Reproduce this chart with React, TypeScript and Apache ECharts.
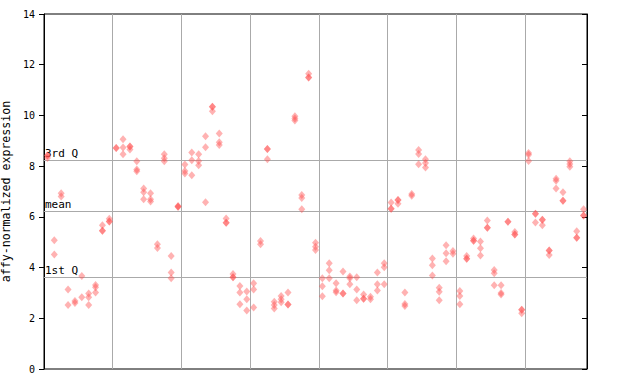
import React, { useEffect, useRef } from "react";
import * as echarts from "echarts";

// Replicate values per sample, grouped by the eight vertical bands (10 samples each)
const group1Values: number[][] = [
  [8.42, 8.42, 8.32], [5.08, 4.52], [6.93, 6.8], [3.14, 2.52], [2.68, 2.6],
  [3.67, 2.83], [2.98, 2.83, 2.52], [3.31, 3.22, 3.02], [5.67, 5.45, 5.45], [5.93, 5.82, 5.82],
];
const group2Values: number[][] = [
  [8.72, 8.72], [9.06, 8.74, 8.47], [8.77, 8.77, 8.66], [8.19, 7.87, 7.8], [7.12, 6.97, 6.69],
  [6.93, 6.69, 6.61], [4.92, 4.77], [8.47, 8.31, 8.19], [4.46, 3.81, 3.58], [6.43, 6.4, 6.4],
];
const group3Values: number[][] = [
  [8.06, 7.81, 7.71], [8.54, 8.23, 7.64], [8.47, 8.2, 8.04], [9.18, 8.75, 6.58], [10.34, 10.34, 10.16],
  [9.29, 8.94, 8.83], [5.94, 5.77, 5.77], [3.75, 3.62, 3.62], [3.27, 3.02, 2.55], [3.06, 2.75, 2.31],
];
const group4Values: number[][] = [
  [3.38, 3.14, 2.43], [5.05, 4.92], [8.68, 8.68, 8.27], [2.65, 2.52, 2.39], [2.88, 2.75, 2.63],
  [3.02, 2.54, 2.54], [9.97, 9.88, 9.8], [6.86, 6.74, 6.3], [11.64, 11.5, 11.5], [4.98, 4.82, 4.69],
];
const group5Values: number[][] = [
  [3.58, 3.26, 2.87], [4.17, 3.89, 3.58], [3.38, 3.1, 3.03], [3.85, 2.98, 2.98], [3.65, 3.58, 3.34],
  [3.62, 3.14, 2.71], [2.94, 2.77, 2.77], [2.85, 2.75], [3.81, 3.34, 3.1], [4.17, 4.01, 3.34],
];
const group6Values: number[][] = [
  [6.57, 6.32, 6.32], [6.66, 6.66, 6.52], [3.02, 2.56, 2.48], [6.9, 6.83], [8.64, 8.48, 8.07],
  [8.27, 8.12, 7.95], [4.36, 4.09, 3.69], [3.2, 3.05, 2.71], [4.88, 4.56, 4.25], [4.65, 4.55],
];
const group7Values: number[][] = [
  [3.08, 2.88, 2.55], [4.46, 4.35, 4.35], [5.15, 5.06, 5.06], [5.03, 4.76, 4.48], [5.86, 5.57, 5.57],
  [3.9, 3.78, 3.3], [3.3, 3.0, 2.94], [5.81, 5.81], [5.4, 5.3, 5.3], [2.34, 2.34, 2.2],
];
const group8Values: number[][] = [
  [8.52, 8.45, 8.2], [6.12, 6.12, 5.78], [5.89, 5.89, 5.67], [4.67, 4.67, 4.5], [7.5, 7.42, 7.12],
  [6.97, 6.64, 6.64], [8.19, 8.08, 7.98], [5.43, 5.18, 5.18], [6.3, 6.05, 6.05],
];

const referenceLines = [
  { name: "3rd Q", value: 8.23 },
  { name: "mean", value: 6.23 },
  { name: "1st Q", value: 3.62 },
];

const yTicks = [0, 2, 4, 6, 8, 10, 12, 14];

const MONO = "'DejaVu Sans Mono', 'Liberation Mono', monospace";

export default function App() {
  const ref = useRef<HTMLDivElement>(null);

  useEffect(() => {
    document.body.style.margin = "0";
    if (!ref.current) return;
    const chart = echarts.init(ref.current, undefined, { renderer: "svg" });

    const allSamples = [
      ...group1Values, ...group2Values, ...group3Values, ...group4Values,
      ...group5Values, ...group6Values, ...group7Values, ...group8Values,
    ];
    const points: number[][] = [];
    allSamples.forEach((vals, i) => {
      vals.forEach((v) => points.push([i + 0.5, v]));
    });

    const option = {
      animation: false,
      grid: {
        left: 44, right: 53, top: 14, bottom: 15,
        containLabel: false,
        outerBoundsMode: "none",
        show: true, borderColor: "#000", borderWidth: 1, backgroundColor: "#fff",
      },
      xAxis: {
        type: "value", min: 0, max: allSamples.length, interval: 10,
        axisLine: { show: false }, axisTick: { show: false }, axisLabel: { show: false },
        splitLine: { show: true, lineStyle: { color: "#aaaaaa", width: 1 } },
      },
      yAxis: [
        {
          type: "value", min: yTicks[0], max: yTicks[yTicks.length - 1], interval: 2,
          position: "left",
          axisLine: { show: true, lineStyle: { color: "#000" } },
          axisTick: { show: true, length: 5, lineStyle: { color: "#000" } },
          axisLabel: { color: "#000", fontFamily: MONO, fontSize: 10, margin: 9 },
          splitLine: { show: false },
          name: "affy-normalized expression",
          nameLocation: "middle",
          nameGap: 22,
          nameTextStyle: { color: "#000", fontFamily: MONO, fontSize: 11.6 },
        },
        {
          type: "value", min: yTicks[0], max: yTicks[yTicks.length - 1], interval: 2,
          position: "right",
          axisLine: { show: true, lineStyle: { color: "#000" } },
          axisTick: { show: true, inside: true, length: 5, lineStyle: { color: "#000" } },
          axisLabel: { show: false },
          splitLine: { show: false },
        },
      ],
      series: [
        {
          type: "scatter",
          data: points,
          symbol: "diamond",
          symbolSize: [7, 8],
          itemStyle: { color: "rgba(255, 80, 80, 0.55)" },
          z: 3,
          markLine: {
            silent: true,
            symbol: "none",
            z: 1,
            lineStyle: { color: "#aaaaaa", width: 1, type: "solid" },
            label: {
              show: true,
              position: "insideStartTop",
              formatter: "{b}",
              color: "#000",
              fontFamily: MONO,
              fontSize: 11,
              distance: [1, 1],
            },
            data: referenceLines.map((r) => ({ name: r.name, yAxis: r.value })),
          },
        },
      ],
    };

    chart.setOption(option as any);
    return () => chart.dispose();
  }, []);

  return <div ref={ref} style={{ width: 640, height: 384 }} />;
}
